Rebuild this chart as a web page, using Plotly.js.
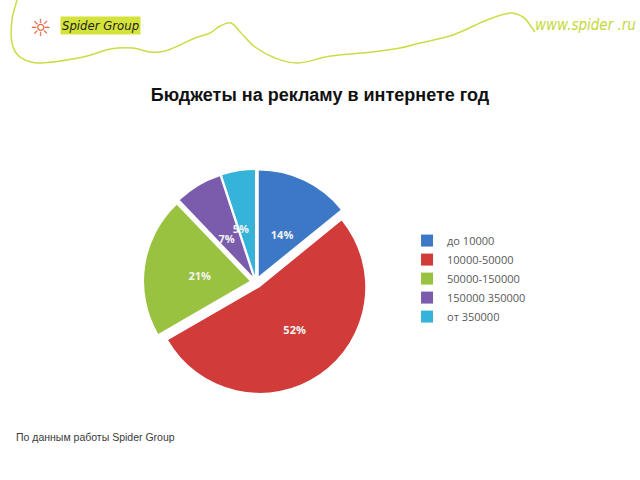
<!DOCTYPE html>
<html>
<head>
<meta charset="utf-8">
<script src="https://cdn.plot.ly/plotly-3.0.1.min.js"></script>
<style>html,body{margin:0;padding:0;background:#fff;}#chart{width:640px;height:480px;}</style>
</head>
<body>
<div id="chart"></div>
<script>
// Data
const categories = ["до 10000", "10000-50000", "50000-150000", "150000 350000", "от 350000"];
const shares = [14, 52, 21, 7, 5];
const sliceColors = ["#3C78C6", "#D13B39", "#98C23F", "#7B5BAC", "#36B3D9"];
const chartTitle = "Бюджеты на рекламу в интернете год";
const sourceNote = "По данным работы Spider Group";

// decorative wavy line (pixel points -> paper coords, Catmull-Rom smoothed)
const wave = [[17,0],[12,20],[12,43],[20,57],[40,63],[83,57],[110,49],[133,48],[150,52],[165,51],[180,45],[195,38],[210,33],[220,26],[231,23],[241,33],[255,47],[275,58],[298,63],[331,56],[372,52],[400,48],[420,43],[453,35],[487,20],[510,13],[523,17],[530,25],[535,32]];
function P(p){return (p[0]/640).toFixed(4)+","+(1-p[1]/480).toFixed(4);}
let d = "M" + P(wave[0]);
for (let i=0;i<wave.length-1;i++){
  const p0 = wave[Math.max(i-1,0)], p1 = wave[i], p2 = wave[i+1], p3 = wave[Math.min(i+2,wave.length-1)];
  const c1 = [p1[0]+(p2[0]-p0[0])/6, p1[1]+(p2[1]-p0[1])/6];
  const c2 = [p2[0]-(p3[0]-p1[0])/6, p2[1]-(p3[1]-p1[1])/6];
  d += " C" + P(c1) + " " + P(c2) + " " + P(p2);
}

const pieDomain = {x: [0.225, 0.575], y: [0.179, 0.646]};
const pulls = [0.06,0.06,0.06,0.06,0.06];
const clear = ["rgba(0,0,0,0)","rgba(0,0,0,0)","rgba(0,0,0,0)","rgba(0,0,0,0)","rgba(0,0,0,0)"];

const trace = {
  type: "pie",
  labels: categories,
  values: shares,
  sort: false,
  direction: "clockwise",
  rotation: 0,
  pull: pulls,
  marker: {colors: sliceColors, line: {color: "#ffffff", width: 0}},
  textinfo: "none",
  hoverinfo: "label+value",
  domain: pieDomain
};

// transparent inner copies that carry the data labels nearer the centre,
// one per label so that neighbouring small-slice labels are not pushed apart
function labelTrace(idx, rot, scale) {
  const hx = 0.065 * scale, hy = 0.0867 * scale;
  return {
    type: "pie",
    labels: categories,
    values: shares,
    sort: false,
    direction: "clockwise",
    rotation: rot,
    pull: pulls,
    marker: {colors: clear, line: {width: 0}},
    texttemplate: shares.map((v, i) => i === idx ? "%{value}%" : ""),
    textposition: "outside",
    outsidetextfont: {family: "Open Sans, Liberation Sans, sans-serif", size: 11, color: "#F4F4F4", weight: "bold"},
    automargin: false,
    showlegend: false,
    hoverinfo: "skip",
    domain: {x: [0.4 - hx, 0.4 + hx], y: [0.4125 - hy, 0.4125 + hy]}
  };
}

const layout = {
  width: 640, height: 480,
  margin: {l:0, r:0, t:0, b:0},
  paper_bgcolor: "#ffffff",
  showlegend: true,
  title: {text: chartTitle, x: 0.5, xanchor: "center", y: 1 - 95/480, yanchor: "middle",
          font: {family: "Liberation Sans, Arial, sans-serif", size: 18, color: "#111111", weight: "bold"}},
  legend: {x: 0.636, y: 0.529, xanchor: "left", yanchor: "top",
           font: {family: "Open Sans, Liberation Sans, sans-serif", size: 11, color: "#595959"},
           itemwidth: 30, tracegroupgap: 0, bgcolor: "rgba(0,0,0,0)"},
  shapes: [{type: "path", xref: "paper", yref: "paper", path: d, line: {color: "#CBDD45", width: 1.5}}],
  annotations: [
    {text: sourceNote, xref: "paper", yref: "paper", x: 14/640, y: 1 - 437/480, xanchor: "left", yanchor: "middle",
     showarrow: false, font: {family: "Liberation Sans, Arial, sans-serif", size: 10.5, color: "#3A3A3A"}},
    {text: "Spider Group", xref: "paper", yref: "paper", x: 60/640, y: 1 - 25/480, xanchor: "left", yanchor: "middle",
     showarrow: false, bgcolor: "#D4E33A", borderpad: 1,
     font: {family: "DejaVu Sans Condensed, DejaVu Sans, sans-serif", size: 13, color: "#1E1E1E", style: "italic"}},
    {text: "☼", xref: "paper", yref: "paper", x: 28/640, y: 1 - 28/480, xanchor: "left", yanchor: "middle",
     showarrow: false, font: {family: "DejaVu Sans, sans-serif", size: 24, color: "#E8603C"}},
    {text: "www.spider .ru", xref: "paper", yref: "paper", x: 533/640, y: 1 - 25/480, xanchor: "left", yanchor: "middle",
     showarrow: false, font: {family: "DejaVu Sans Condensed, DejaVu Sans, sans-serif", size: 15, color: "#C5D93A", style: "italic"}}
  ]
};

Plotly.newPlot("chart", [
  trace,
  labelTrace(0, -10, 1.0),
  labelTrace(1, 5, 1.15),
  labelTrace(2, 0, 1.0),
  labelTrace(3, 6, 1.0),
  labelTrace(4, 5, 1.1)
], layout, {staticPlot: true, displayModeBar: false});
</script>
</body>
</html>
